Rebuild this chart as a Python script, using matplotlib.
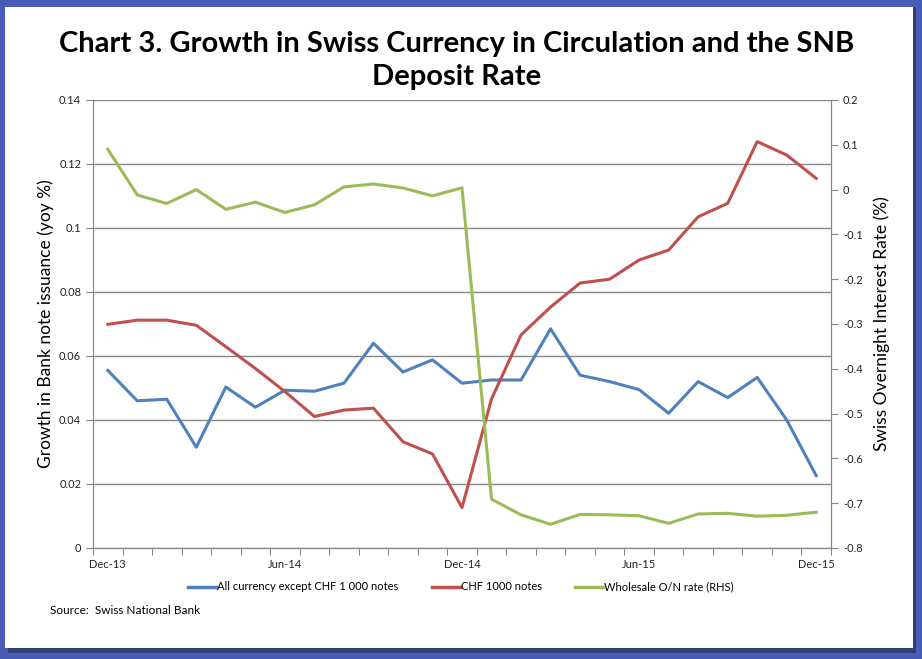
import matplotlib.pyplot as plt
import numpy as np
from matplotlib.patches import Rectangle
from matplotlib.lines import Line2D

months = ['Dec-13', 'Jan-14', 'Feb-14', 'Mar-14', 'Apr-14', 'May-14', 'Jun-14', 'Jul-14',
          'Aug-14', 'Sep-14', 'Oct-14', 'Nov-14', 'Dec-14', 'Jan-15', 'Feb-15', 'Mar-15',
          'Apr-15', 'May-15', 'Jun-15', 'Jul-15', 'Aug-15', 'Sep-15', 'Oct-15', 'Nov-15', 'Dec-15']
all_ex_1000 = [0.0555, 0.046, 0.0465, 0.0315, 0.0503, 0.044, 0.0493, 0.049, 0.0515, 0.064,
               0.055, 0.0588, 0.0515, 0.0525, 0.0525, 0.0685, 0.054, 0.052, 0.0495, 0.0421,
               0.052, 0.047, 0.0533, 0.040, 0.0226]
chf_1000 = [0.0699, 0.0712, 0.0712, 0.0696, 0.0629, 0.0561, 0.0489, 0.0411, 0.0431, 0.0437,
            0.0332, 0.0294, 0.0126, 0.0466, 0.0666, 0.0753, 0.0828, 0.084, 0.090, 0.0931,
            0.1035, 0.1077, 0.127, 0.1228, 0.1155]
on_rate = [0.090, -0.012, -0.031, 0.0, -0.044, -0.028, -0.051, -0.034, 0.006, 0.0125,
           0.0036, -0.014, 0.004, -0.691, -0.726, -0.747, -0.725, -0.726, -0.728, -0.745,
           -0.724, -0.7226, -0.729, -0.727, -0.720]
shown = ['Dec-13', 'Jun-14', 'Dec-14', 'Jun-15', 'Dec-15']

plt.rcParams['font.family'] = ['Lato', 'DejaVu Sans']

fig = plt.figure(figsize=(9.22, 6.59), dpi=100)
fig.patch.set_facecolor('#4a5db6')
# white panel with darker shadow on right/bottom
fig.add_artist(Rectangle((8 / 922, 1 - 653 / 659), 908 / 922, 646 / 659,
                         transform=fig.transFigure, facecolor='#2f3f7a', edgecolor='none', zorder=0))
fig.add_artist(Rectangle((5 / 922, 1 - 648 / 659), 908 / 922, 641 / 659,
                         transform=fig.transFigure, facecolor='white', edgecolor='none', zorder=0))

ax = fig.add_axes([93 / 922, 1 - 548 / 659, 738 / 922, 448 / 659])
ax.set_facecolor('none')
x = np.arange(len(months))
ax.plot(x, all_ex_1000, color='#4f81bd', lw=2.2, zorder=3)
ax.plot(x, chf_1000, color='#c0504d', lw=2.2, zorder=3)
ax.set_xlim(-0.5, len(months) - 0.5)
ax.set_ylim(0, 0.14)
ax.set_yticks(np.arange(0, 0.141, 0.02))
ax.set_yticklabels(['0', '0.02', '0.04', '0.06', '0.08', '0.1', '0.12', '0.14'])
ax.yaxis.grid(True, color='#868686', lw=1)
ax.set_axisbelow(True)

ax2 = ax.twinx()
ax2.plot(x, on_rate, color='#9bbb59', lw=2.2, zorder=3)
ax2.set_ylim(-0.8, 0.2)
ax2.set_yticks(np.arange(-0.8, 0.21, 0.1))
ax2.set_yticklabels(['-0.8', '-0.7', '-0.6', '-0.5', '-0.4', '-0.3', '-0.2', '-0.1', '0', '0.1', '0.2'])
ax2.set_xlim(-0.5, len(months) - 0.5)

ax.set_xticks(np.arange(-0.5, len(months), 1.0))
ax.set_xticklabels([])
ax.set_xticks([months.index(m) for m in shown], minor=True)
ax.set_xticklabels(shown, minor=True)
ax.tick_params(axis='x', which='major', length=5, color='#868686', direction='out')
ax.tick_params(axis='x', which='minor', length=0, pad=8, labelsize=8, labelcolor='#222222')
ax.tick_params(axis='y', length=5, color='#868686', labelsize=8, labelcolor='#222222')
ax2.tick_params(axis='y', length=5, color='#868686', labelsize=8, labelcolor='#222222')

for a in (ax, ax2):
    a.spines['top'].set_visible(False)
    for s in ('left', 'right', 'bottom'):
        a.spines[s].set_color('#868686')

ax.set_ylabel('Growth in Bank note issuance (yoy %)', fontsize=12.5, labelpad=4)
ax2.set_ylabel('Swiss Overnight Interest Rate (%)', fontsize=12.5, labelpad=8)

fig.text(0.495, 1 - 52 / 659, 'Chart 3. Growth in Swiss Currency in Circulation and the SNB',
         ha='center', va='baseline', fontsize=21, fontweight='bold')
fig.text(0.495, 1 - 85 / 659, 'Deposit Rate', ha='center', va='baseline', fontsize=21, fontweight='bold')

handles = [Line2D([], [], color='#4f81bd', lw=2.5),
           Line2D([], [], color='#c0504d', lw=2.5),
           Line2D([], [], color='#9bbb59', lw=2.5)]
labels = ['All currency except CHF 1 000 notes', 'CHF 1000 notes', 'Wholesale O/N rate (RHS)']
fig.legend(handles, labels, loc='center', bbox_to_anchor=(0.5, 1 - 587 / 659), ncol=3,
           frameon=False, fontsize=8, handlelength=2.5, handletextpad=0.1, columnspacing=3)

fig.text(50 / 922, 1 - 611 / 659, 'Source:  Swiss National Bank', ha='left', va='center', fontsize=8.5)

fig.savefig('out.png', dpi=100, facecolor=fig.get_facecolor())
